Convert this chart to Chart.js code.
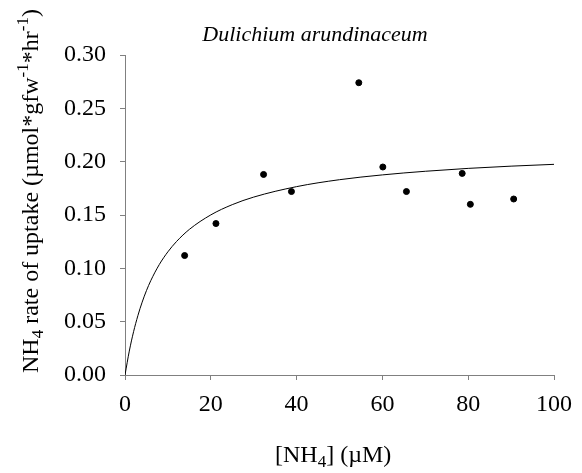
<!DOCTYPE html>
<html>
<head>
<meta charset="utf-8">
<script src="https://cdn.jsdelivr.net/npm/chart.js@4/dist/chart.umd.min.js"></script>
<style>
  html, body { margin: 0; padding: 0; background: #fff; }
  #wrap { width: 582px; height: 473px; }
</style>
</head>
<body>
<div id="wrap"><canvas id="c" width="582" height="473"></canvas></div>
<script>
// Observed data: NH4 concentration (µM) and uptake rate
const obsX = [13.9, 21.2, 32.3, 38.8, 54.5, 60.1, 65.6, 78.6, 80.5, 90.6];
const obsY = [0.112, 0.142, 0.188, 0.172, 0.274, 0.195, 0.172, 0.189, 0.160, 0.165];

// Fitted curve
const fitX = [0, 1, 2, 3, 4, 5, 6, 8, 10, 12, 15, 20, 25, 30, 40, 50, 60, 70, 80, 90, 100];
const fitY = [0, 0.0224, 0.0406, 0.0556, 0.0683, 0.0791, 0.0884, 0.1036, 0.1155, 0.1251, 0.1365,
              0.1501, 0.1597, 0.1668, 0.1766, 0.1831, 0.1876, 0.1910, 0.1937, 0.1958, 0.1975];

// Axis ticks
const xTicks = [0, 20, 40, 60, 80, 100];
const yTicks = [0, 0.05, 0.10, 0.15, 0.20, 0.25, 0.30];

const titleText = "Dulichium arundinaceum";
const xTitleParts = [["[NH", 0], ["4", -1], ["] (\u00B5M)", 0]];
const yTitleParts = [["NH", 0], ["4", -1], [" rate of uptake (\u00B5mol*gfw", 0], ["-1", 1], ["*hr", 0], ["-1", 1], [")", 0]];

const FONT = "'Liberation Serif', 'Times New Roman', serif";
Chart.defaults.font.family = FONT;
Chart.defaults.color = '#000';

function drawRich(ctx, parts, size) {
  let x = 0;
  for (const [t, k] of parts) {
    const s = k === 0 ? size : Math.round(size * 0.7);
    ctx.font = s + "px " + FONT;
    const dy = k === -1 ? size * 0.22 : (k === 1 ? -size * 0.4 : 0);
    ctx.fillText(t, x, dy);
    x += ctx.measureText(t).width;
  }
}

const textPlugin = {
  id: 'textPlugin',
  afterDraw(chart) {
    const ctx = chart.ctx;
    ctx.save();
    ctx.fillStyle = '#000';
    ctx.textBaseline = 'alphabetic';
    // Title
    ctx.font = "italic 22px " + FONT;
    ctx.textAlign = 'center';
    ctx.fillText(titleText, 315, 41);
    ctx.textAlign = 'left';
    // X title
    ctx.save();
    ctx.translate(275, 462);
    drawRich(ctx, xTitleParts, 24);
    ctx.restore();
    // Y title
    ctx.save();
    ctx.translate(38, 373);
    ctx.rotate(-Math.PI / 2);
    drawRich(ctx, yTitleParts, 24);
    ctx.restore();
    ctx.restore();
  }
};

new Chart(document.getElementById('c'), {
  type: 'scatter',
  data: {
    datasets: [
      {
        label: 'fit',
        type: 'line',
        data: fitX.map((x, i) => ({ x: x, y: fitY[i] })),
        borderColor: '#000',
        borderWidth: 1,
        pointRadius: 0,
        fill: false,
        cubicInterpolationMode: 'monotone',
        order: 2
      },
      {
        label: 'observed',
        data: obsX.map((x, i) => ({ x: x, y: obsY[i] })),
        backgroundColor: '#000',
        borderColor: '#000',
        pointRadius: 3,
        pointHoverRadius: 3,
        order: 1
      }
    ]
  },
  options: {
    responsive: false,
    animation: false,
    devicePixelRatio: 1,
    layout: { padding: { top: 55, right: 24, left: 0, bottom: 0 } },
    plugins: {
      legend: { display: false },
      title: { display: false },
      tooltip: { enabled: false }
    },
    scales: {
      x: {
        type: 'linear',
        min: 0, max: 100,
        afterFit(s) { s.height = 98; },
        afterBuildTicks(s) { s.ticks = xTicks.map(v => ({ value: v })); },
        ticks: { font: { size: 24 }, padding: 10, color: '#000', maxRotation: 0 },
        grid: { display: true, drawOnChartArea: false, drawTicks: true, tickLength: 5, color: '#808080' },
        border: { display: true, color: '#808080', width: 1 }
      },
      y: {
        type: 'linear',
        min: 0, max: 0.3,
        afterFit(s) { s.width = 125; },
        afterBuildTicks(s) { s.ticks = yTicks.map(v => ({ value: v })); },
        ticks: { font: { size: 24 }, padding: 14, color: '#000', callback: v => Number(v).toFixed(2) },
        grid: { display: true, drawOnChartArea: false, drawTicks: true, tickLength: 5, color: '#808080' },
        border: { display: true, color: '#808080', width: 1 }
      }
    }
  },
  plugins: [textPlugin]
});
</script>
</body>
</html>
